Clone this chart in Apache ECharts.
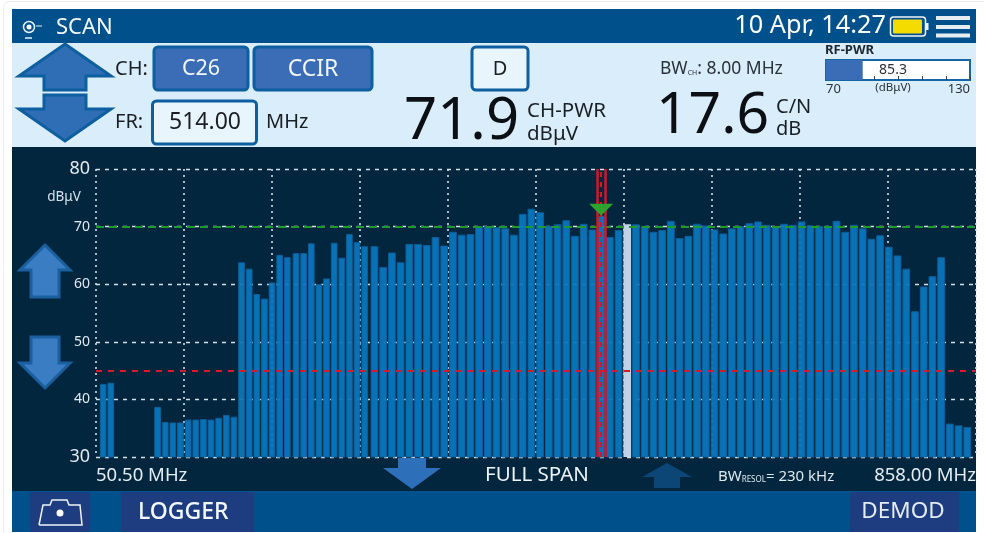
<!DOCTYPE html>
<html>
<head>
<meta charset="utf-8">
<title>SCAN</title>
<style>
  html, body { margin: 0; padding: 0; background: #fff; }
  #chart { width: 984px; height: 533px; }
</style>
<script src="https://cdn.jsdelivr.net/npm/echarts@6/dist/echarts.min.js"></script>
</head>
<body>
<div id="chart"></div>
<script>
// channel centres in MHz, 7 MHz raster
var vhfFreqs = [57.5, 64.5, 107.5, 114.5, 121.5, 128.5, 135.5, 142.5, 149.5, 156.5, 163.5, 170.5,
    177.5, 184.5, 191.5, 198.5, 205.5, 212.5, 219.5, 226.5,
    234.5, 241.5, 248.5, 255.5, 262.5, 269.5, 276.5, 283.5, 290.5, 297.5];
var vhfLevels = [42.7, 42.9, 38.7, 36.1, 36.0, 36.0, 36.5, 36.5, 36.6, 36.5, 36.8, 37.3,
    37.0, 63.8, 62.7, 58.3, 57.5, 60.3, 65.1, 64.7,
    65.4, 65.4, 67.1, 60.0, 61.0, 67.2, 64.6, 68.7, 67.3, 66.6];

// channel centres in MHz, 8 MHz raster
var uhfFreqs = [306, 314, 322, 330, 338, 346, 354, 362, 370, 378, 386, 394, 402, 410, 418, 426, 434, 442, 450, 458, 466,
    474, 482, 490, 498, 506, 514, 522, 530, 538, 546, 554, 562, 570, 578, 586, 594, 602, 610, 618, 626, 634, 642, 650,
    658, 666, 674, 682, 690, 698, 706, 714, 722, 730, 738, 746, 754, 762, 770, 778, 786, 794, 802, 810, 818, 826, 834, 842, 850];
var uhfLevels = [66.6, 63.0, 65.5, 63.8, 67.0, 67.0, 66.8, 68.2, 66.7, 69.1, 68.6, 68.7, 70.1, 70.1, 69.9, 69.7, 68.6, 72.2, 73.1, 72.5, 70.1,
    70.4, 71.1, 68.4, 70.5, 69.5, 71.9, 68.2, 69.4, 70.4, 70.4, 70.1, 69.1, 69.4, 71.0, 68.0, 68.4, 70.5, 70.2, 69.5, 68.8, 69.7, 70.1, 70.6,
    70.9, 70.3, 70.1, 70.5, 70.3, 70.9, 70.2, 70.1, 70.1, 71.0, 69.1, 70.3, 69.7, 67.9, 68.5, 66.5, 65.0, 62.7, 55.3, 59.6, 61.4, 64.7, 35.8, 35.5, 35.2];

var spanStart = 50.5;
var spanEnd = 858;
var markerFreq = 514;
var markerBand = [510, 518];
var markerLevel = 71.9;
var selectedFreq = 538;
var refLevel = 70;
var lowLevel = 45;
var rfPower = [85.3];

var FONT = '"Noto Sans", sans-serif';

function txt(x, y, text, size, color, align, extra) {
    var style = { x: x, y: y, text: text, fontSize: size, fill: color, fontFamily: FONT,
        align: align || 'left', verticalAlign: 'middle' };
    for (var k in (extra || {})) style[k] = extra[k];
    return { type: 'text', z: 20, silent: true, style: style };
}
function box(x, y, w, h, fill, stroke, lw, r, z) {
    return { type: 'rect', z: z === undefined ? 10 : z, silent: true,
        shape: { x: x, y: y, width: w, height: h, r: r || 0 },
        style: { fill: fill, stroke: stroke || null, lineWidth: lw || 0 } };
}
function arrow(cx, tipY, wingY, endY, halfW, halfS, fill, stroke) {
    return { type: 'polygon', z: 12, silent: true,
        shape: { points: [[cx, tipY], [cx + halfW, wingY], [cx + halfS, wingY], [cx + halfS, endY],
            [cx - halfS, endY], [cx - halfS, wingY], [cx - halfW, wingY]] },
        style: { fill: fill, stroke: stroke || null, lineWidth: stroke ? 3 : 0 } };
}

var BLUE_BAR = '#0976bd';
var NAVY = '#00508c';
var BTN = '#3a6db5';
var BORDER = '#0d5f9f';
var INK = '#1a1f24';

var elements = [
    box(3.5, 1.5, 990, 545, null, '#ececec', 1, 6, -20),

    // screen blocks
    box(12, 9, 964, 34, NAVY, null, 0, 0, -10),
    box(12, 43, 964, 104, '#d9edfb', null, 0, 0, -10),
    box(12, 147, 964, 344, '#02263d', null, 0, 0, -10),
    box(12, 491, 964, 41, NAVY, null, 0, 0, -10),

    // header
    { type: 'circle', z: 20, silent: true, shape: { cx: 29, cy: 27, r: 5.5 }, style: { fill: null, stroke: '#e8f2fa', lineWidth: 1.5 } },
    { type: 'circle', z: 20, silent: true, shape: { cx: 29, cy: 27, r: 2.5 }, style: { fill: '#fff' } },
    { type: 'line', z: 20, silent: true, shape: { x1: 36, y1: 26, x2: 42, y2: 26 }, style: { stroke: '#e8f2fa', lineWidth: 1 } },
    { type: 'line', z: 20, silent: true, shape: { x1: 25, y1: 38, x2: 32, y2: 38 }, style: { stroke: '#e8f2fa', lineWidth: 1.5 } },
    txt(56, 28, 'SCAN', 22, '#f2f7fb'),
    txt(886, 26, '10 Apr, 14:27', 25.3, '#ffffff', 'right'),
    box(890.5, 17, 35, 19, null, '#eef4f8', 1.5, 3, 20),
    box(893, 19.5, 29, 14, '#f4dc00', null, 0, 1, 20),
    box(926, 23, 2.5, 7, '#eef4f8', null, 0, 0, 20),
    box(936, 16, 34, 4, '#e6edf2', null, 0, 0, 20),
    box(936, 25, 34, 4, '#e6edf2', null, 0, 0, 20),
    box(936, 33.5, 34, 4, '#e6edf2', null, 0, 0, 20),

    // tuning panel
    arrow(65, 44, 76, 90, 46, 21, '#2f6eb4', BORDER),
    arrow(65, 141, 109, 95, 46, 21, '#2f6eb4', BORDER),
    txt(115, 69, 'CH:', 20, INK),
    txt(115, 122, 'FR:', 20, INK),
    box(154, 47, 94, 43, BTN, BORDER, 3, 4),
    txt(201, 69, 'C26', 21.5, '#f2f7fb', 'center'),
    box(254, 47, 118, 43, BTN, BORDER, 3, 4),
    txt(313, 69, 'CCIR', 23, '#f2f7fb', 'center'),
    box(472, 47, 56, 43, '#e9f5fd', BORDER, 3, 4),
    txt(500, 69, 'D', 20, INK, 'center'),
    box(152.5, 101, 104, 43, '#e9f5fd', BORDER, 3, 4),
    txt(205, 122, '514.00', 23, INK, 'center'),
    txt(266, 122, 'MHz', 20, INK),

    // readouts
    txt(404, 122, '71.9', 58, '#0c1014'),
    txt(527, 111, 'CH-PWR', 20.5, INK),
    txt(527, 134, 'dBμV', 20.5, INK),
    txt(656, 117, '17.6', 57, '#0c1014'),
    txt(776, 107, 'C/N', 20, INK),
    txt(776, 129, 'dB', 20, INK),
    txt(660, 69, '{n|BW}{s|CH}{n|: 8.00 MHz}', 17.5, '#2b3138', 'left', {
        rich: { n: { fontSize: 17.5, fontFamily: FONT, fill: '#2b3138' },
            s: { fontSize: 7, fontFamily: FONT, fill: '#2b3138', padding: [8, 0, 0, 0] } } }),
    txt(825, 50, 'RF-PWR', 13, '#1f2830', 'left', { fontWeight: 'bold' }),
    txt(893, 70, '85.3', 14, '#2b3138', 'center'),
    txt(893, 88, '(dBμV)', 11.5, '#2b3138', 'center'),

    // chart side arrows
    txt(64, 197, 'dBμV', 13.5, '#d7e3ec', 'center'),
    arrow(45, 245, 270, 297, 25, 14, '#3a7dc2', '#1a5f9e'),
    arrow(45, 388, 363, 337, 25, 14, '#3a7dc2', '#1a5f9e'),
    arrow(412, 489, 468, 458, 29, 14, '#2e6fb9'),
    arrow(667, 463, 477, 488, 25, 13, '#0b4676'),
    txt(537, 475, 'FULL SPAN', 20.5, '#eef3f7', 'center'),
    txt(718, 477, '{n|BW}{s|RESOL}{n|= 230 kHz}', 15, '#dfe8ee', 'left', {
        rich: { n: { fontSize: 15, fontFamily: FONT, fill: '#dfe8ee' },
            s: { fontSize: 8, fontFamily: FONT, fill: '#dfe8ee', padding: [6, 0, 0, 0] } } }),

    // bottom bar
    box(30, 492, 60, 40, '#1e3c80', null, 0, 0, 5),
    box(121, 492, 133, 40, '#1e3c80', null, 0, 0, 5),
    box(850, 492, 109, 40, '#1e3c80', null, 0, 0, 5),
    { type: 'polyline', z: 20, silent: true, shape: { points: [[39, 525], [43, 505], [50, 505], [52, 500], [67, 500], [69, 505], [80, 505], [82, 525], [39, 525]] },
        style: { fill: null, stroke: '#eef3f7', lineWidth: 1.5 } },
    { type: 'circle', z: 20, silent: true, shape: { cx: 60, cy: 513, r: 3.5 }, style: { fill: '#fff' } },
    txt(138, 512, 'LOGGER', 23, '#f2f7fb', 'left', { fontWeight: 500 }),
    txt(903, 512, 'DEMOD', 22.5, '#e4ecf3', 'center')
];

function pairs(xs, ys) {
    return xs.map(function (x, i) {
        var item = { value: [x, ys[i]] };
        if (x === selectedFreq) item.itemStyle = { color: '#bfd2e6', opacity: 1, borderWidth: 0 };
        return item;
    });
}

var barStyle = { color: BLUE_BAR, opacity: 0.95, borderColor: '#0d5f9a', borderWidth: 1 };

var option = {
    backgroundColor: '#ffffff',
    animation: false,
    textStyle: { fontFamily: FONT },
    graphic: { elements: elements },
    grid: [
        { left: 96, right: 8, top: 169, bottom: 76 },
        { left: 826, right: 14, top: 60, height: 20, show: true, backgroundColor: '#ffffff', borderColor: '#1466a8', borderWidth: 2 }
    ],
    xAxis: [
        {
            type: 'value', gridIndex: 0, min: spanStart, max: spanEnd,
            splitLine: { show: false }, axisLine: { show: false }, axisTick: { show: false },
            axisLabel: {
                customValues: [spanStart, spanEnd], margin: 9, color: '#e6edf2', fontSize: 18.5,
                alignMinLabel: 'left', alignMaxLabel: 'right',
                formatter: function (v) { return v.toFixed(2) + ' MHz'; }
            }
        },
        {
            // ten screen divisions, no frequency meaning
            type: 'value', gridIndex: 0, position: 'bottom', min: 0, max: 10, interval: 1,
            axisLine: { show: false }, axisTick: { show: false }, axisLabel: { show: false },
            splitLine: { show: true, lineStyle: { color: '#d5dfe6', type: [2, 4], width: 1.6 } }
        },
        {
            type: 'value', gridIndex: 1, min: 70, max: 130, interval: 10,
            splitLine: { show: false }, axisLine: { show: false },
            axisTick: { show: true, inside: true, length: 4, lineStyle: { color: '#33424f' } },
            axisLabel: {
                margin: 3, fontSize: 13, color: '#2b3138',
                alignMinLabel: 'left', alignMaxLabel: 'right',
                formatter: function (v) { return v === 70 || v === 130 ? String(v) : ''; }
            }
        }
    ],
    yAxis: [
        {
            type: 'value', gridIndex: 0, min: 30, max: 80, interval: 10,
            axisLine: { show: false }, axisTick: { show: false },
            axisLabel: {
                margin: 6,
                formatter: function (v) { return (v === 80 || v === 30) ? '{big|' + v + '}' : '{small|' + v + '}'; },
                rich: { big: { fontSize: 18, color: '#e2e9ef' }, small: { fontSize: 14, color: '#e2e9ef' } }
            },
            splitLine: { show: true, lineStyle: { color: '#d5dfe6', type: [4, 5], width: 1.4 } }
        },
        {
            type: 'category', gridIndex: 1, data: ['RF-PWR'],
            axisLine: { show: false }, axisTick: { show: false }, axisLabel: { show: false }
        }
    ],
    series: [
        {
            name: 'VHF', type: 'bar', xAxisIndex: 0, yAxisIndex: 0, barWidth: 6.7, barGap: '-100%',
            itemStyle: barStyle, data: pairs(vhfFreqs, vhfLevels)
        },
        {
            name: 'UHF', type: 'bar', xAxisIndex: 0, yAxisIndex: 0, barWidth: 7.7, barGap: '-100%',
            itemStyle: barStyle, data: pairs(uhfFreqs, uhfLevels),
            markLine: {
                silent: true, symbol: 'none', animation: false, label: { show: false },
                data: [
                    { yAxis: refLevel, lineStyle: { color: '#1d9a2b', type: [8, 5], width: 2 } },
                    { yAxis: lowLevel, lineStyle: { color: '#d21c2d', type: [6, 6], width: 2 } },
                    { xAxis: markerBand[0], lineStyle: { color: '#d0182a', type: 'solid', width: 2.5 } },
                    { xAxis: markerBand[1], lineStyle: { color: '#d0182a', type: 'solid', width: 2.5 } },
                    { xAxis: markerFreq, lineStyle: { color: '#d0182a', type: [5, 5], width: 2 } }
                ]
            },
            markPoint: {
                silent: true, animation: false, symbol: 'triangle', symbolRotate: 180,
                symbolSize: [24, 12], symbolOffset: [0, -6],
                itemStyle: { color: '#2ba32c' }, label: { show: false },
                data: [{ coord: [markerFreq, markerLevel] }]
            }
        },
        {
            name: 'RF-PWR', type: 'bar', xAxisIndex: 2, yAxisIndex: 1, barWidth: '100%',
            itemStyle: { color: '#3b6db6' }, data: rfPower
        }
    ]
};

var chart = echarts.init(document.getElementById('chart'));
chart.setOption(option);
</script>
</body>
</html>
